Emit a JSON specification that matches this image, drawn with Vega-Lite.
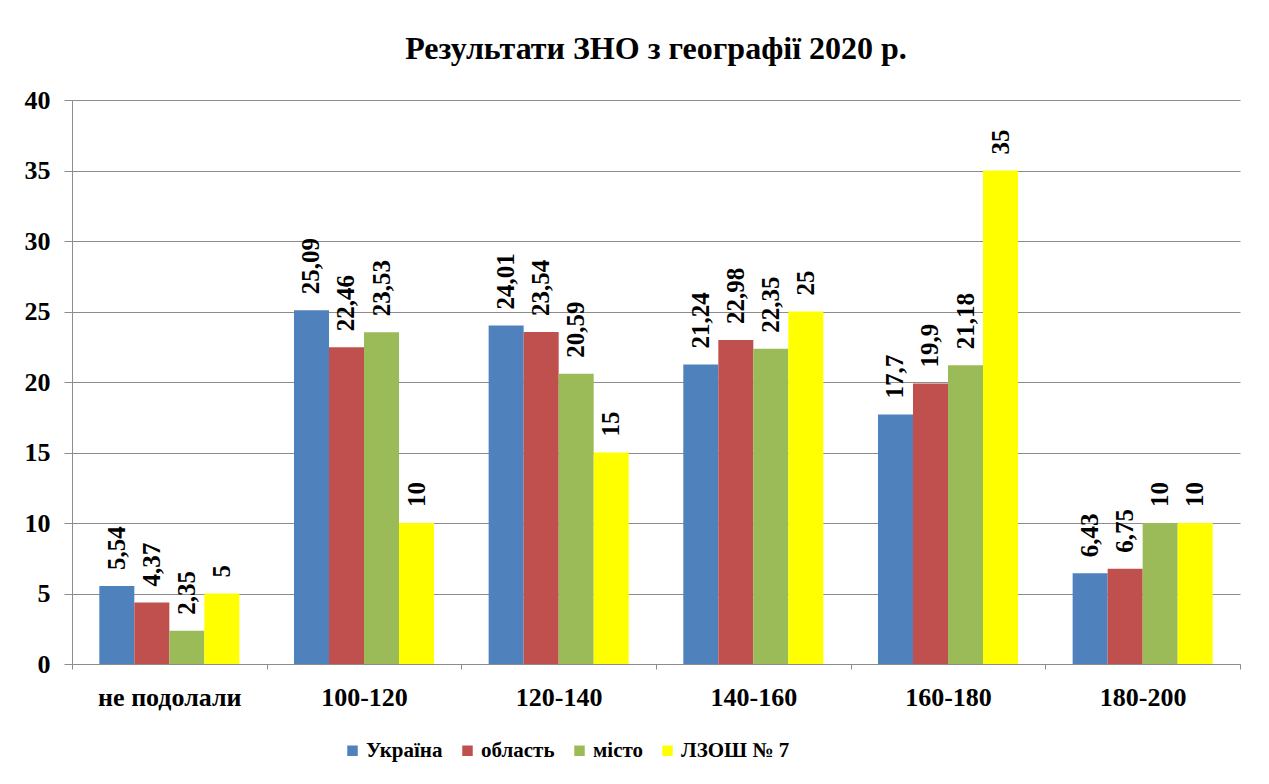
{
  "$schema": "https://vega.github.io/schema/vega-lite/v6.json",
  "width": 1168,
  "height": 564,
  "autosize": {"type": "none"},
  "padding": {"left": 72, "top": 100, "right": 29, "bottom": 120},
  "background": "white",
  "title": {
    "text": "Результати ЗНО з географії 2020 р.",
    "font": "Liberation Serif",
    "fontSize": 32,
    "fontWeight": "bold",
    "color": "black",
    "anchor": "middle",
    "offset": 21
  },
  "data": {
    "values": [
      {"cat": "не подолали", "series": "Україна", "value": 5.54},
      {"cat": "не подолали", "series": "область", "value": 4.37},
      {"cat": "не подолали", "series": "місто", "value": 2.35},
      {"cat": "не подолали", "series": "ЛЗОШ № 7", "value": 5},
      {"cat": "100-120", "series": "Україна", "value": 25.09},
      {"cat": "100-120", "series": "область", "value": 22.46},
      {"cat": "100-120", "series": "місто", "value": 23.53},
      {"cat": "100-120", "series": "ЛЗОШ № 7", "value": 10},
      {"cat": "120-140", "series": "Україна", "value": 24.01},
      {"cat": "120-140", "series": "область", "value": 23.54},
      {"cat": "120-140", "series": "місто", "value": 20.59},
      {"cat": "120-140", "series": "ЛЗОШ № 7", "value": 15},
      {"cat": "140-160", "series": "Україна", "value": 21.24},
      {"cat": "140-160", "series": "область", "value": 22.98},
      {"cat": "140-160", "series": "місто", "value": 22.35},
      {"cat": "140-160", "series": "ЛЗОШ № 7", "value": 25},
      {"cat": "160-180", "series": "Україна", "value": 17.7},
      {"cat": "160-180", "series": "область", "value": 19.9},
      {"cat": "160-180", "series": "місто", "value": 21.18},
      {"cat": "160-180", "series": "ЛЗОШ № 7", "value": 35},
      {"cat": "180-200", "series": "Україна", "value": 6.43},
      {"cat": "180-200", "series": "область", "value": 6.75},
      {"cat": "180-200", "series": "місто", "value": 10},
      {"cat": "180-200", "series": "ЛЗОШ № 7", "value": 10}
    ]
  },
  "encoding": {
    "x": {
      "field": "cat",
      "type": "nominal",
      "sort": ["не подолали", "100-120", "120-140", "140-160", "160-180", "180-200"],
      "scale": {"paddingInner": 0, "paddingOuter": 0},
      "axis": {
        "title": null,
        "labelAngle": 0,
        "tickBand": "extent",
        "labelFont": "Liberation Serif",
        "labelFontSize": 26,
        "labelFontWeight": "bold",
        "labelColor": "black",
        "labelPadding": 15,
        "domainColor": "#8c8c8c",
        "tickColor": "#8c8c8c",
        "tickSize": 5,
        "grid": false
      }
    },
    "xOffset": {
      "field": "series",
      "type": "nominal",
      "sort": ["Україна", "область", "місто", "ЛЗОШ № 7"],
      "scale": {"paddingInner": 0, "paddingOuter": 0.78}
    },
    "y": {
      "field": "value",
      "type": "quantitative",
      "scale": {"domain": [0, 40]},
      "axis": {
        "title": null,
        "values": [0, 5, 10, 15, 20, 25, 30, 35, 40],
        "grid": true,
        "gridColor": "#8c8c8c",
        "domainColor": "#8c8c8c",
        "tickColor": "#8c8c8c",
        "tickSize": 8,
        "labelFont": "Liberation Serif",
        "labelFontSize": 26,
        "labelFontWeight": "bold",
        "labelColor": "black",
        "labelPadding": 14
      }
    }
  },
  "layer": [
    {
      "mark": {"type": "bar"},
      "encoding": {
        "color": {
          "field": "series",
          "type": "nominal",
          "sort": ["Україна", "область", "місто", "ЛЗОШ № 7"],
          "scale": {
            "domain": ["Україна", "область", "місто", "ЛЗОШ № 7"],
            "range": ["#4F81BD", "#C0504D", "#9BBB59", "#FFFF00"]
          },
          "legend": {
            "title": null,
            "orient": "none",
            "direction": "horizontal",
            "legendX": 270,
            "legendY": 640,
            "symbolType": "square",
            "symbolSize": 110,
            "symbolStrokeWidth": 0,
            "symbolOpacity": 1,
            "labelFont": "Liberation Serif",
            "labelFontSize": 21,
            "labelFontWeight": "bold",
            "labelColor": "black",
            "labelOffset": 3,
            "columnPadding": 14
          }
        }
      }
    },
    {
      "mark": {
        "type": "text",
        "angle": 270,
        "align": "left",
        "baseline": "middle",
        "dx": 16,
        "font": "Liberation Serif",
        "fontSize": 25,
        "fontWeight": "bold",
        "color": "black"
      },
      "encoding": {
        "text": {"field": "value", "type": "quantitative", "format": "~g"}
      }
    }
  ],
  "config": {
    "locale": {
      "number": {
        "decimal": ",",
        "thousands": " ",
        "grouping": [3],
        "currency": ["", " ₴"]
      }
    },
    "view": {"stroke": null}
  }
}
